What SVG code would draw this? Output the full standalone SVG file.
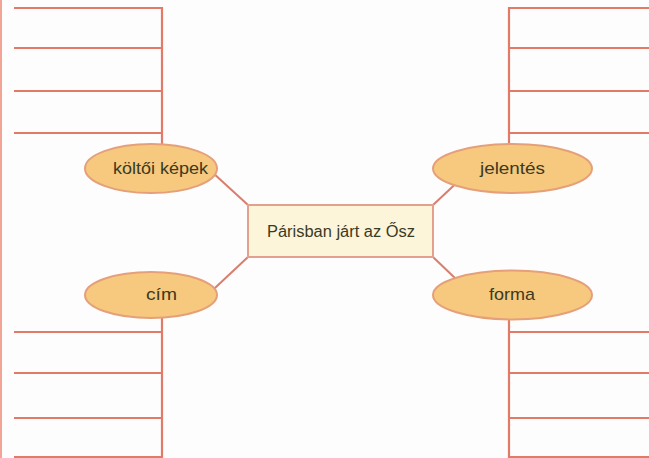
<svg xmlns="http://www.w3.org/2000/svg" width="649" height="458" viewBox="0 0 649 458">
<style>
.ln{stroke:#e27a68;stroke-width:2.2;fill:none}
.edge{stroke:#f2a596;stroke-width:2;fill:none}
.conn{stroke:#d87e6c;stroke-width:2;fill:none}
.el{fill:#f6c97e;stroke:#e5a07a;stroke-width:2}
.box{fill:#fdf5da;stroke:#e3a08e;stroke-width:2}
.t{font-family:"Liberation Sans",Arial,sans-serif;font-size:17px;fill:#3b3a22;text-anchor:middle}
.c{font-size:16px}
</style>
<rect width="649" height="458" fill="#fdfdfe"/>
<line class="edge" x1="1" y1="0" x2="1" y2="458"/>
<g id="brackets">
<path class="ln" d="M14 8H162V145M14 48H162M14 91H162M14 133H162"/>
<path class="ln" d="M509 145V8H649M509 48H649M509 91H649M509 133H649"/>
<path class="ln" d="M14 332H162M14 373H162M14 418H162M14 457H162M162 318V458"/>
<path class="ln" d="M509 318V458M509 332H649M509 373H649M509 418H649M509 457H649"/>
</g>
<g id="connectors">
<line class="conn" x1="248" y1="205" x2="200" y2="161"/>
<line class="conn" x1="433" y1="205" x2="480" y2="161"/>
<line class="conn" x1="248" y1="257" x2="200" y2="302"/>
<line class="conn" x1="433" y1="257" x2="480" y2="302"/>
</g>
<g id="center">
<rect class="box" x="248" y="205" width="185" height="52"/>
<text class="t c" x="341" y="237" textLength="148" lengthAdjust="spacingAndGlyphs">Párisban járt az Ősz</text>
</g>
<g id="kolt">
<ellipse class="el" cx="151" cy="168.5" rx="66" ry="24.5"/>
<text class="t" x="160.5" y="174" textLength="95" lengthAdjust="spacingAndGlyphs">költői képek</text>
</g>
<g id="jelentes">
<ellipse class="el" cx="512.5" cy="168.5" rx="79.5" ry="24.5"/>
<text class="t" x="512.5" y="174" textLength="65" lengthAdjust="spacingAndGlyphs">jelentés</text>
</g>
<g id="cim">
<ellipse class="el" cx="151" cy="295" rx="66" ry="23"/>
<text class="t" x="161.5" y="300" textLength="31" lengthAdjust="spacingAndGlyphs">cím</text>
</g>
<g id="forma">
<ellipse class="el" cx="512.5" cy="295" rx="79.5" ry="24.5"/>
<text class="t" x="512" y="300" textLength="46" lengthAdjust="spacingAndGlyphs">forma</text>
</g>
</svg>
